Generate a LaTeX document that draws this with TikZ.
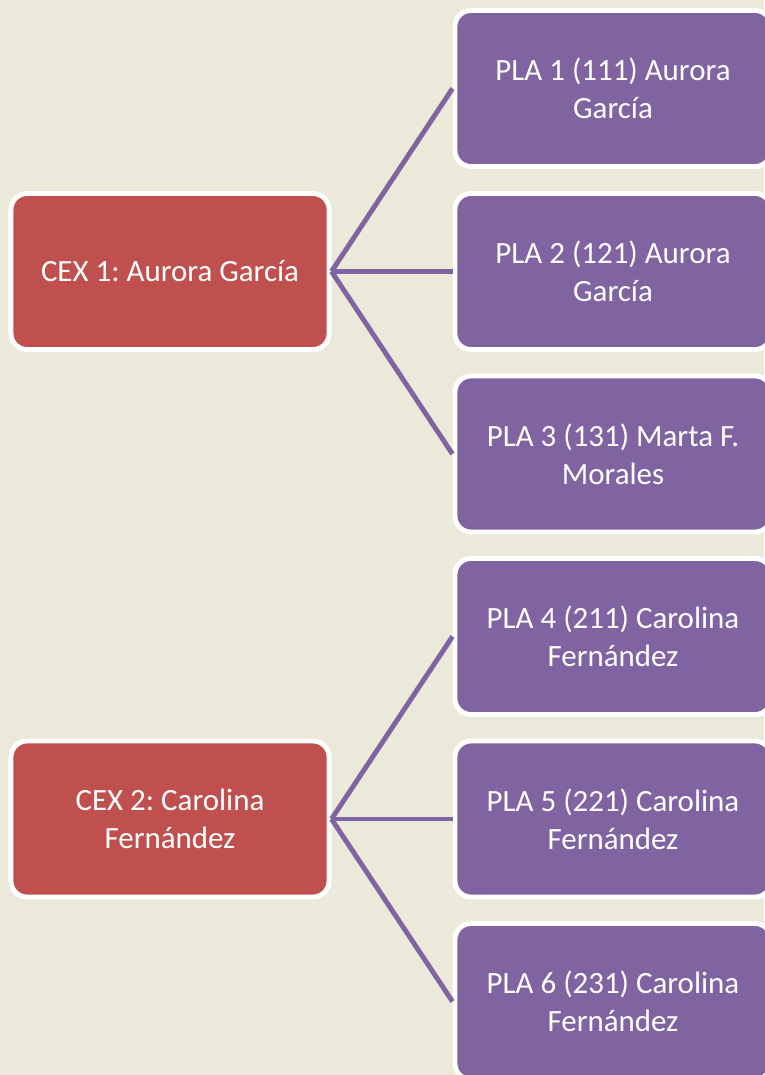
\documentclass[tikz,border=0pt]{standalone}
\usepackage{fontspec}
\setmainfont{Carlito}
\frenchspacing
\definecolor{bgtan}{HTML}{EBE9D9}
\definecolor{cexred}{HTML}{C0504D}
\definecolor{plapurple}{HTML}{8064A2}
\tikzset{
  cexbox/.style={draw=white, line width=3.5pt, fill=cexred, rounded corners=0.4cm,
    text=white, align=center, minimum width=7.95cm, minimum height=3.9cm,
    font=\fontsize{22}{27}\selectfont},
  plabox/.style={cexbox, fill=plapurple, minimum width=7.9cm},
  link/.style={draw=plapurple, line width=3.5pt}
}
\begin{document}
\begin{tikzpicture}[x=0.025cm, y=-0.025cm]
	\fill[bgtan] (0,0) rectangle (764,1075);
	\useasboundingbox (0,0) rectangle (764,1075);
	\node[cexbox] (cex1) at (170,271.5) {CEX 1: Aurora García};
	\node[cexbox] (cex2) at (170,819) {CEX 2: Carolina\\Fernández};
	\node[plabox] (pla1) at (613,88.5) {PLA 1 (111) Aurora\\García};
	\node[plabox] (pla2) at (613,271.5) {PLA 2 (121) Aurora\\García};
	\node[plabox] (pla3) at (613,454) {PLA 3 (131) Marta F.\\Morales};
	\node[plabox] (pla4) at (613,636.5) {PLA 4 (211) Carolina\\Fernández};
	\node[plabox] (pla5) at (613,819) {PLA 5 (221) Carolina\\Fernández};
	\node[plabox] (pla6) at (613,1001.5) {PLA 6 (231) Carolina\\Fernández};
	\foreach \i in {1,2,3}
		\draw[link] (cex1.east) -- (pla\i.west);
	\foreach \i in {4,5,6}
		\draw[link] (cex2.east) -- (pla\i.west);
\end{tikzpicture}
\end{document}
